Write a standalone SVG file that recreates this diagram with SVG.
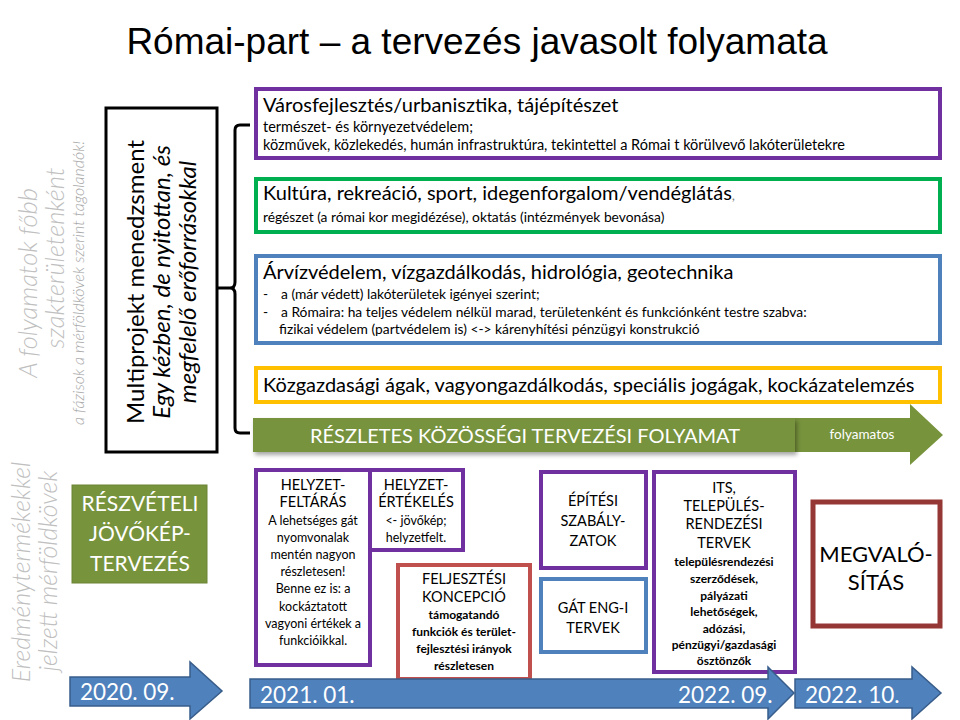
<svg xmlns="http://www.w3.org/2000/svg" width="960" height="720" viewBox="0 0 960 720">
<defs>
<style>
.t{font-family:Lato,"Open Sans",sans-serif;fill:#000}
.title{font-family:"Liberation Sans",Arial,sans-serif;font-size:37px;fill:#000}
.side{font-family:Lato,sans-serif;font-style:italic;font-weight:300;fill:#bfbfbf}
.box{fill:#fff;stroke-width:4}
.pur{stroke:#7030a0}
.grn{stroke:#00b050}
.blu{stroke:#4f81bd}
.yel{stroke:#ffc000}
.red{stroke:#c0504d}
.drd{stroke:#953735;stroke-width:5}
.h1{font-size:20px}
.s1{font-size:14.5px}
.s2{font-size:13.8px}
.c{text-anchor:middle}
.hd{font-size:14.5px}
.bd{font-size:12.5px}
.bb{font-size:12px;font-weight:bold}
.w{fill:#fff}
.arr{fill:#4f81bd;stroke:#385d8a;stroke-width:1.5}
.date{font-family:Lato,sans-serif;font-size:22.5px;fill:#fff}
</style>
<filter id="sh" x="-5%" y="-20%" width="110%" height="150%">
<feDropShadow dx="2" dy="3" stdDeviation="2" flood-color="#000" flood-opacity="0.35"/>
</filter>
</defs>
<rect width="960" height="720" fill="#fff"/>
<text class="title" x="477" y="54" text-anchor="middle">Római-part – a tervezés javasolt folyamata</text>

<g id="side-labels">
<text class="side" font-size="25.5" text-anchor="middle" transform="translate(37,283) rotate(-90)">A folyamatok főbb</text>
<text class="side" font-size="25.5" text-anchor="middle" transform="translate(64,258) rotate(-90)">szakterületenként</text>
<text class="side" font-size="16" text-anchor="middle" transform="translate(84,283) rotate(-90)" style="fill:#a6a6a6">a fázisok a mérföldkövek szerint tagolandók!</text>
<text class="side" font-size="25" text-anchor="middle" transform="translate(30,572) rotate(-90)">Eredménytermékekkel</text>
<text class="side" font-size="25" text-anchor="middle" transform="translate(57,571) rotate(-90)">jelzett mérföldkövek</text>
</g>

<g id="multiprojekt">
<rect x="106" y="108" width="111" height="344" fill="#fff" stroke="#000" stroke-width="3"/>
<text class="t" font-size="24" text-anchor="middle" transform="translate(144,282) rotate(-90)">Multiprojekt menedzsment</text>
<text class="t" font-size="24" font-style="italic" text-anchor="middle" transform="translate(170,282) rotate(-90)">Egy kézben, de nyitottan, és</text>
<text class="t" font-size="24" font-style="italic" text-anchor="middle" transform="translate(196,282) rotate(-90)">megfelelő erőforrásokkal</text>
</g>

<g id="connectors">
<path d="M250,125 H240 Q235,125 235,130 V282 Q235,288 230,288 H218 M230,288 Q235,288 235,294 V428 Q235,433 240,433 H250" fill="none" stroke="#000" stroke-width="3"/>
</g>

<g id="varosfejlesztes">
<rect class="box pur" x="256" y="89" width="684" height="69"/>
<text class="t h1" x="263" y="112">Városfejlesztés/urbanisztika, tájépítészet</text>
<text class="t s1" x="263" y="132">természet- és környezetvédelem;</text>
<text class="t s1" x="263" y="150">közművek, közlekedés, humán infrastruktúra, tekintettel  a Római t körülvevő lakóterületekre</text>
</g>

<g id="kultura">
<rect class="box grn" x="256" y="179" width="684" height="53"/>
<text class="t h1" x="263" y="200">Kultúra, rekreáció, sport, idegenforgalom/vendéglátás<tspan font-size="14" fill="#7f7f7f">,</tspan></text>
<text class="t s2" x="263" y="222">régészet (a római kor megidézése), oktatás (intézmények bevonása)</text>
</g>

<g id="arvizvedelem">
<rect class="box blu" x="256" y="256" width="684" height="87"/>
<text class="t h1" x="263" y="279">Árvízvédelem, vízgazdálkodás, hidrológia, geotechnika</text>
<text class="t s2" x="263" y="299">-</text>
<text class="t s2" x="281" y="299">a (már védett) lakóterületek igényei szerint;</text>
<text class="t s2" x="263" y="317">-</text>
<text class="t s2" x="281" y="317">a Rómaira: ha teljes védelem nélkül marad, területenként  és funkciónként testre szabva:</text>
<text class="t s2" x="279" y="334">fizikai védelem (partvédelem is) &lt;-&gt; kárenyhítési pénzügyi konstrukció</text>
</g>

<g id="kozgazdasag">
<rect class="box yel" x="256" y="368" width="684" height="34"/>
<text class="t h1" x="263" y="392">Közgazdasági ágak, vagyongazdálkodás, speciális jogágak, kockázatelemzés</text>
</g>

<g id="kozossegi-tervezes">
<path d="M795,418 H910 V404 L943,435 L910,465 V452 H795 Z" fill="#77933c"/>
<rect x="253" y="418" width="542" height="34" fill="#77933c" filter="url(#sh)"/>
<text class="t w c" x="525" y="443" font-size="20">RÉSZLETES KÖZÖSSÉGI TERVEZÉSI FOLYAMAT</text>
<text class="t w c" x="862" y="439" font-size="13.5">folyamatos</text>
</g>

<g id="reszveteli">
<rect x="72" y="485" width="135" height="98" fill="#77933c" stroke="#6a8434" stroke-width="1"/>
<text class="t w c" x="140" y="511" font-size="21">RÉSZVÉTELI</text>
<text class="t w c" x="140" y="541" font-size="21">JÖVŐKÉP-</text>
<text class="t w c" x="140" y="571" font-size="21">TERVEZÉS</text>
</g>

<g id="helyzetfeltaras">
<rect class="box pur" x="256" y="470" width="114" height="195"/>
<text class="t hd c" x="313" y="490">HELYZET-</text>
<text class="t hd c" x="313" y="507">FELTÁRÁS</text>
<text class="t bd c" x="313" y="525">A lehetséges gát</text>
<text class="t bd c" x="313" y="542">nyomvonalak</text>
<text class="t bd c" x="313" y="559">mentén nagyon</text>
<text class="t bd c" x="313" y="576">részletesen!</text>
<text class="t bd c" x="313" y="593">Benne ez is: a</text>
<text class="t bd c" x="313" y="611">kockáztatott</text>
<text class="t bd c" x="313" y="628">vagyoni értékek a</text>
<text class="t bd c" x="313" y="645">funkcióikkal.</text>
</g>

<g id="helyzetertekeles">
<rect class="box pur" x="370" y="470" width="93" height="80"/>
<text class="t hd c" x="416" y="490">HELYZET-</text>
<text class="t hd c" x="416" y="507">ÉRTÉKELÉS</text>
<text class="t bd c" x="416" y="525">&lt;- jövőkép;</text>
<text class="t bd c" x="416" y="542">helyzetfelt.</text>
</g>

<g id="fejlesztesi-koncepcio">
<rect class="box red" x="398" y="565" width="132" height="114"/>
<text class="t hd c" x="464" y="584">FELJESZTÉSI</text>
<text class="t hd c" x="464" y="602">KONCEPCIÓ</text>
<text class="t bb c" x="464" y="619">támogatandó</text>
<text class="t bb c" x="464" y="636">funkciók és terület-</text>
<text class="t bb c" x="464" y="653">fejlesztési irányok</text>
<text class="t bb c" x="464" y="670">részletesen</text>
</g>

<g id="epitesi-szabalyzatok">
<rect class="box pur" x="541" y="472" width="105" height="96"/>
<text class="t hd c" x="593" y="506">ÉPÍTÉSI</text>
<text class="t hd c" x="593" y="526">SZABÁLY-</text>
<text class="t hd c" x="593" y="546">ZATOK</text>
</g>

<g id="gat-eng">
<rect class="box blu" x="541" y="579" width="105" height="73"/>
<text class="t hd c" x="593" y="613">GÁT ENG-I</text>
<text class="t hd c" x="593" y="633">TERVEK</text>
</g>

<g id="its">
<rect class="box pur" x="654" y="472" width="141" height="200"/>
<text class="t hd c" x="724" y="493">ITS,</text>
<text class="t hd c" x="724" y="511">TELEPÜLÉS-</text>
<text class="t hd c" x="724" y="529">RENDEZÉSI</text>
<text class="t hd c" x="724" y="548">TERVEK</text>
<text class="t bb c" x="724" y="566">településrendezési</text>
<text class="t bb c" x="724" y="583">szerződések,</text>
<text class="t bb c" x="724" y="600">pályázati</text>
<text class="t bb c" x="724" y="616">lehetőségek,</text>
<text class="t bb c" x="724" y="633">adózási,</text>
<text class="t bb c" x="724" y="649">pénzügyi/gazdasági</text>
<text class="t bb c" x="724" y="665">ösztönzők</text>
</g>

<g id="megvalositas">
<rect class="box drd" x="813" y="502" width="127" height="124"/>
<text class="t c" x="876" y="562" font-size="22">MEGVALÓ-</text>
<text class="t c" x="876" y="590" font-size="22">SÍTÁS</text>
</g>

<g id="timeline">
<path class="arr" d="M70,677 H190 V662 L222,691 L190,719 V706 H70 Z"/>
<text class="date" x="80" y="700">2020. 09.</text>
<path class="arr" d="M250,679 H768 V667 L794,693 L768,719 V708 H250 Z"/>
<text class="date" x="260" y="703">2021. 01.</text>
<text class="date" x="678" y="703">2022. 09.</text>
<path class="arr" d="M795,679 H912 V667 L941,693 L912,719 V708 H795 Z"/>
<text class="date" x="805" y="703">2022. 10.</text>
</g>
</svg>
